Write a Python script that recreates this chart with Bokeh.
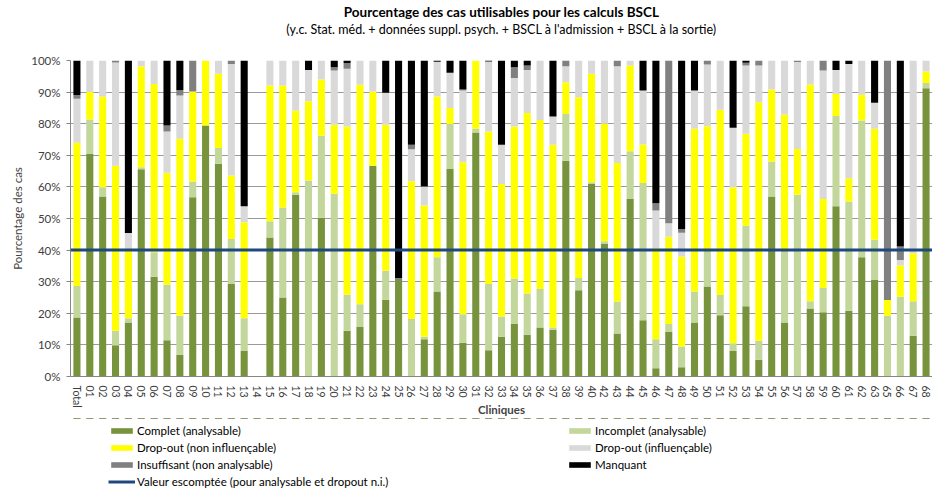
from bokeh.plotting import figure
from bokeh.layouts import column
from bokeh.models import (ColumnDataSource, FactorRange, Range1d, Legend, LegendItem,
                          Span, Title, PrintfTickFormatter, FixedTicker)
from bokeh.embed import file_html
from bokeh.resources import INLINE

cliniques = ["Total", "01", "02", "03", "04", "05", "06", "07", "08", "09", "10",
             "11", "12", "13", "14", "15", "16", "17", "18", "19", "20", "21", "22",
             "23", "24", "25", "26", "27", "28", "29", "30", "31", "32", "33", "34",
             "35", "36", "37", "38", "39", "40", "42", "43", "44", "45", "46", "47",
             "48", "49", "50", "51", "52", "53", "54", "55", "56", "57", "58", "59",
             "60", "61", "62", "63", "65", "66", "67", "68"]

complet = [18.7, 70.4, 57.0, 9.9, 17.1, 65.6, 31.6, 11.5, 6.9, 56.7, 79.4,
           67.3, 29.3, 8.1, 0, 44.0, 25.0, 57.5, 0, 50.2, 0, 14.5, 15.7,
           66.7, 24.3, 30.5, 0, 11.8, 26.9, 65.7, 10.7, 77.2, 8.3, 12.6, 16.6,
           13.2, 15.5, 14.8, 68.3, 27.3, 60.9, 41.9, 13.6, 56.2, 17.8, 2.6, 14.1,
           2.9, 17.1, 28.5, 19.4, 8.1, 22.2, 5.3, 57.0, 17.1, 0, 21.5, 20.3,
           53.9, 20.8, 37.7, 30.5, 0, 0, 12.9, 91.2]

incomplet = [9.9, 10.9, 2.9, 4.6, 1.3, 0.6, 7.7, 17.5, 12.3, 5.0, 0,
             5.0, 14.2, 10.3, 0, 5.1, 28.5, 0.8, 62.0, 26.0, 57.8, 11.4, 7.2,
             0, 9.2, 0, 18.2, 0.8, 10.8, 14.2, 9.0, 1.2, 21.0, 6.4, 14.4,
             13.1, 12.2, 0.7, 14.8, 3.9, 0.6, 0.9, 10.1, 15.1, 43.4, 9.2, 2.5,
             6.6, 9.8, 11.3, 6.4, 2.4, 25.5, 6.0, 11.0, 22.7, 57.5, 2.3, 7.7,
             28.5, 34.6, 43.3, 12.8, 19.2, 25.2, 10.9, 1.7]

dropout_ni = [45.4, 8.7, 28.7, 52.2, 21.4, 32.0, 53.3, 35.5, 56.0, 28.5, 20.6,
              23.5, 20.1, 30.4, 0, 43.0, 38.6, 25.9, 25.1, 17.8, 21.9, 53.2, 69.4,
              23.5, 46.2, 0, 43.6, 41.5, 50.9, 5.1, 48.1, 21.6, 48.2, 41.9, 48.1,
              57.1, 53.5, 57.8, 10.0, 57.2, 34.3, 37.3, 43.9, 27.1, 12.2, 28.9, 27.6,
              28.5, 51.5, 39.4, 58.6, 49.4, 29.1, 75.5, 22.8, 43.1, 14.5, 68.6, 28.2,
              7.0, 7.3, 8.2, 35.1, 5.0, 9.9, 15.2, 3.6]

dropout_i = [13.9, 10.0, 11.4, 32.7, 5.6, 1.8, 7.4, 13.0, 13.7, 0, 0,
             4.2, 35.3, 5.1, 0, 7.9, 7.9, 15.8, 9.9, 6.0, 17.1, 18.3, 7.7,
             9.8, 10.1, 0, 10.1, 6.0, 11.0, 11.1, 22.7, 0, 22.2, 12.4, 15.4,
             13.6, 18.8, 9.0, 5.1, 11.6, 4.2, 19.9, 30.6, 1.6, 17.1, 11.8, 4.3,
             7.5, 12.1, 19.5, 15.6, 18.8, 21.6, 11.6, 9.2, 17.1, 27.5, 7.6, 40.6,
             7.6, 36.2, 10.8, 8.2, 0, 1.8, 61.0, 3.5]

insuffisant = [1.2, 0, 0, 0.6, 0, 0, 0, 1.9, 1.8, 9.8, 0,
               0, 1.1, 0, 0, 0, 0, 0, 0, 0, 1.1, 1.8, 0,
               0, 0, 0.7, 1.4, 0, 0, 0, 0.3, 0, 0, 0, 3.4,
               1.4, 0, 0, 1.8, 0, 0, 0, 1.8, 0, 0, 2.3, 51.5,
               1.2, 0, 1.3, 0, 0, 0.9, 1.6, 0, 0, 0.5, 0, 3.2,
               0, 0, 0, 0, 75.8, 4.2, 0, 0]

manquant = [10.9, 0, 0, 0, 54.6, 0, 0, 20.6, 9.3, 0, 0,
            0, 0, 46.1, 0, 0, 0, 0, 3.0, 0, 2.1, 0.8, 0,
            0, 10.2, 68.8, 26.7, 39.9, 0.4, 3.9, 9.2, 0, 0.3, 26.7, 2.1,
            1.6, 0, 17.7, 0, 0, 0, 0, 0, 0, 9.5, 45.2, 0,
            53.3, 9.5, 0, 0, 21.3, 0.7, 0, 0, 0, 0, 0, 0,
            3.0, 1.1, 0, 13.4, 0, 58.9, 0, 0]

valeur_escomptee = 40
y_ticks = [0, 10, 20, 30, 40, 50, 60, 70, 80, 90, 100]

series = ["complet", "incomplet", "dropout_ni", "dropout_i", "insuffisant", "manquant"]
labels = ["Complet (analysable)", "Incomplet (analysable)", "Drop-out (non influençable)",
          "Drop-out (influençable)", "Insuffisant (non analysable)", "Manquant"]
label_valeur = "Valeur escomptée (pour analysable et dropout n.i.)"
colors = ["#77933C", "#C3D69B", "#FFFF00", "#D9D9D9", "#808080", "#000000"]
line_color = "#1F497D"

source = ColumnDataSource(dict(
    x=cliniques, complet=complet, incomplet=incomplet, dropout_ni=dropout_ni,
    dropout_i=dropout_i, insuffisant=insuffisant, manquant=manquant,
    valeur=[valeur_escomptee] * len(cliniques)))

FONT = "Lato"
x_range = FactorRange(factors=cliniques, range_padding=0)

# ---------------- main chart ----------------
p = figure(x_range=x_range, y_range=Range1d(0, 100), width=932, height=418,
           output_backend="svg", toolbar_location=None, title=None,
           min_border_left=70, min_border_right=0, min_border_top=60,
           min_border_bottom=42)

p.vbar_stack(series, x="x", width=0.55, source=source, color=colors, line_color=None)

span = Span(location=valeur_escomptee, dimension="width", line_color=line_color,
            line_width=3)
p.add_layout(span)

spacer = Title(text=" ", text_font=FONT, text_font_size="18px", standoff=0)
sub = Title(text="(y.c. Stat. méd. + données suppl. psych. + BSCL à l'admission + BSCL à la sortie)",
            align="center", text_font=FONT, text_font_size="12.5px",
            text_font_style="normal", text_color="#000000", standoff=0)
main = Title(text="Pourcentage des cas utilisables pour les calculs BSCL", align="center",
             text_font=FONT, text_font_size="13.5px", text_font_style="bold",
             text_color="#000000", standoff=0)
p.add_layout(spacer, "above")
p.add_layout(sub, "above")
p.add_layout(main, "above")

p.yaxis.ticker = FixedTicker(ticks=y_ticks)
p.yaxis.formatter = PrintfTickFormatter(format="%d%%")
p.yaxis.axis_label = "Pourcentage des cas"
p.yaxis.axis_label_text_font = FONT
p.yaxis.axis_label_text_font_size = "11.5px"
p.yaxis.axis_label_text_font_style = "normal"
p.yaxis.axis_label_standoff = 4
p.yaxis.major_label_text_font = FONT
p.yaxis.major_label_text_font_size = "11.5px"
p.yaxis.major_label_text_color = "#404040"
p.yaxis.major_label_standoff = 6
p.yaxis.major_tick_in = 0
p.yaxis.major_tick_out = 4
p.yaxis.minor_tick_line_color = None
p.yaxis.axis_line_color = "#868686"
p.yaxis.major_tick_line_color = "#868686"

p.xaxis.axis_label = "Cliniques"
p.xaxis.axis_label_text_font = FONT
p.xaxis.axis_label_text_font_size = "11.5px"
p.xaxis.axis_label_text_font_style = "bold"
p.xaxis.axis_label_standoff = -8
p.xaxis.major_label_orientation = "vertical"
p.xaxis.major_label_text_font = FONT
p.xaxis.major_label_text_font_size = "10.5px"
p.xaxis.major_label_text_color = "#404040"
p.xaxis.major_label_standoff = 3
p.xaxis.major_tick_line_color = None
p.xaxis.axis_line_color = "#868686"

p.xgrid.grid_line_color = None
p.ygrid.grid_line_color = "#9A9A9A"
p.ygrid.grid_line_width = 1
p.outline_line_color = None

# ---------------- legend strip ----------------
# legend proxies use the same data but are zero-height bars (nothing visible)
lg = figure(width=932, height=72, x_range=x_range, y_range=Range1d(-2, -1),
            output_backend="svg", toolbar_location=None, title=None,
            x_axis_type=None, y_axis_type=None,
            min_border_left=70, min_border_right=0, min_border_top=0,
            min_border_bottom=0)
lg.grid.visible = False
lg.outline_line_color = None

proxies = [lg.vbar(x="x", top=s, bottom=s, width=0.55, source=source, color=c,
                   line_color=None) for s, c in zip(series, colors)]
line_proxy = lg.line(x="x", y="valeur", source=source, line_color=line_color,
                     line_width=3)

left_items = [LegendItem(label=labels[0], renderers=[proxies[0]]),
              LegendItem(label=labels[2], renderers=[proxies[2]]),
              LegendItem(label=labels[4], renderers=[proxies[4]]),
              LegendItem(label=label_valeur, renderers=[line_proxy])]
right_items = [LegendItem(label=labels[1], renderers=[proxies[1]]),
               LegendItem(label=labels[3], renderers=[proxies[3]]),
               LegendItem(label=labels[5], renderers=[proxies[5]])]

for items, loc in ((left_items, (38, 2)), (right_items, (496, 19))):
    leg = Legend(items=items, location=loc, orientation="vertical",
                 border_line_color=None, background_fill_alpha=0,
                 padding=0, margin=0, spacing=4, label_height=12,
                 glyph_width=27, glyph_height=7, label_standoff=2,
                 label_text_font=FONT, label_text_font_size="11.5px",
                 label_text_color="#000000")
    lg.add_layout(leg)

layout = column(p, lg, spacing=0)

open("out.html", "w").write(file_html(layout, INLINE))
